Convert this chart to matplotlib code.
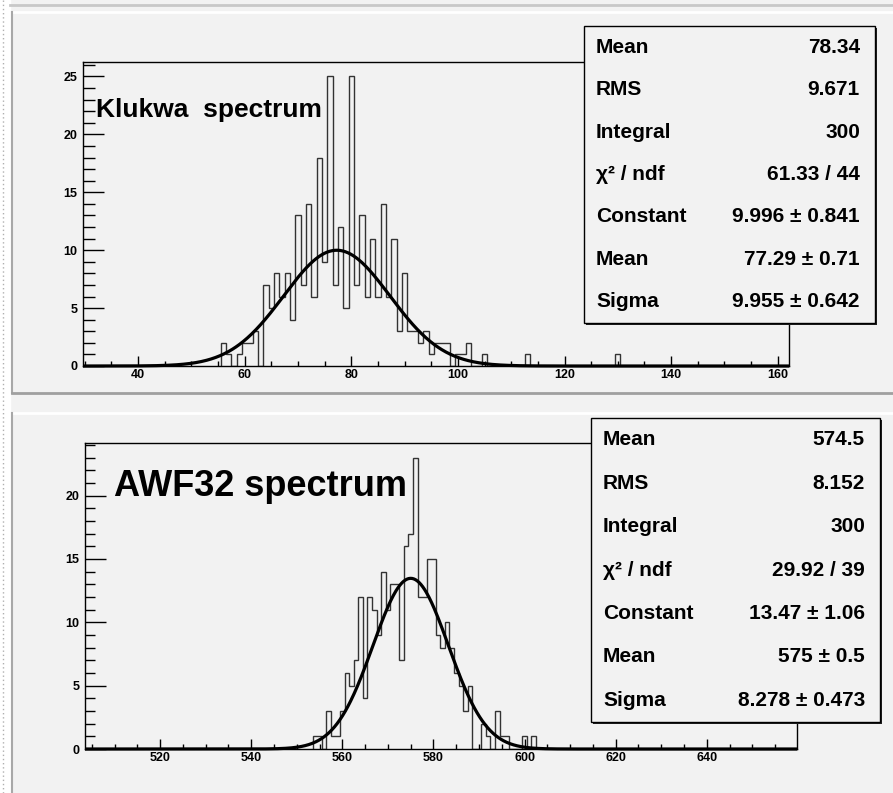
import numpy as np
import matplotlib
matplotlib.use("Agg")
import matplotlib.pyplot as plt
from matplotlib.patches import Rectangle

plt.rcParams['font.family'] = ['Liberation Sans', 'DejaVu Sans']

W, H = 893, 793

# Klukwa spectrum: bin centre -> counts (1-unit bins)
klukwa_bins = [56, 57, 58, 59, 60, 61, 62, 63, 64, 65, 66, 67, 68, 69,
               70, 71, 72, 73, 74, 75, 76, 77, 78, 79, 80, 81, 82, 83,
               84, 85, 86, 87, 88, 89, 90, 91, 92, 93, 94, 95, 96, 97,
               98, 99, 100, 101, 102, 105, 113, 130]
klukwa_counts = [2, 1, 0, 1, 2, 2, 3, 0, 7, 5, 8, 6, 8, 4,
                 13, 7, 14, 6, 18, 9, 25, 7, 12, 5, 25, 7, 13, 6,
                 11, 6, 14, 6, 11, 3, 8, 3, 3, 2, 3, 1, 2, 2,
                 2, 0, 1, 1, 2, 1, 1, 1]

# AWF32 spectrum
awf_bins = [554, 555, 556, 557, 558, 559, 560, 561, 562, 563, 564, 565,
            566, 567, 568, 569, 570, 571, 572, 573, 574, 575, 576, 577,
            578, 579, 580, 581, 582, 583, 584, 585, 586, 587, 588, 589,
            590, 591, 592, 593, 594, 595, 596, 600, 602]
awf_counts = [1, 1, 0, 3, 1, 1, 3, 6, 5, 7, 12, 4,
              12, 11, 9, 14, 11, 13, 13, 7, 16, 17, 23, 12,
              12, 15, 15, 9, 8, 10, 8, 6, 5, 3, 5, 0,
              0, 2, 1, 0, 3, 1, 1, 1, 1]

stat_names = ["Mean", "RMS", "Integral", "\u03c7\u00b2 / ndf", "Constant", "Mean", "Sigma"]
klukwa_stats = ["78.34", "9.671", "300", "61.33 / 44", "9.996 \u00b1 0.841",
                "77.29 \u00b1 0.71", "9.955 \u00b1 0.642"]
awf_stats = ["574.5", "8.152", "300", "29.92 / 39", "13.47 \u00b1 1.06",
             "575 \u00b1 0.5", "8.278 \u00b1 0.473"]
klukwa_fit = (9.996, 77.29, 9.955)
awf_fit = (13.47, 575.0, 8.278)

bg = '#f2f2f2'
fig = plt.figure(figsize=(W / 100, H / 100), dpi=100, facecolor=bg)

# pixel-coordinate overlay for the pad frames
back = fig.add_axes([0, 0, 1, 1], zorder=0)
back.set_xlim(0, W)
back.set_ylim(H, 0)
back.axis('off')
back.add_patch(Rectangle((0, 0), 10, H, color='white'))
back.plot([3, 3], [0, H], color='#b0b0b0', lw=1, ls=(0, (1, 2)))
back.plot([10, W], [5, 5], color='#c8c8c8', lw=2)
back.plot([10, W], [12, 12], color='white', lw=2)
back.plot([12, 12], [12, 393], color='#a8a8a8', lw=1.5)
back.plot([12, W], [393, 393], color='#a0a0a0', lw=2)
back.plot([12, W], [413, 413], color='white', lw=2)
back.plot([12, 12], [413, H], color='#a8a8a8', lw=1.5)


def panel(rect_px, xlim, ymax, bins, counts, fit, title, tsize, tpos,
          box_px, stats, yminor_len):
    x0, y0, x1, y1 = rect_px
    ax = fig.add_axes([x0 / W, 1 - y1 / H, (x1 - x0) / W, (y1 - y0) / H], zorder=2)
    ax.set_facecolor(bg)
    full = np.arange(min(bins), max(bins) + 1)
    vals = np.zeros(len(full))
    vals[np.searchsorted(full, bins)] = counts
    edges = np.append(full - 0.5, full[-1] + 0.5)
    ax.stairs(vals, edges, color='#333333', lw=1.0, baseline=0)
    # fitted gaussian over the whole range
    c, mu, s = fit
    xs = np.linspace(xlim[0], xlim[1], 800)
    ax.plot(xs, c * np.exp(-0.5 * ((xs - mu) / s) ** 2), color='black', lw=2.3,
            solid_capstyle='butt', clip_on=False)
    ax.set_xlim(*xlim)
    ax.set_ylim(0, ymax)
    ax.xaxis.set_major_locator(plt.MultipleLocator(20))
    ax.xaxis.set_minor_locator(plt.MultipleLocator(5))
    ax.yaxis.set_major_locator(plt.MultipleLocator(5))
    ax.yaxis.set_minor_locator(plt.MultipleLocator(1))
    ax.xaxis.set_tick_params(which='major', direction='in', length=7, width=1, pad=2,
                             labelsize=9)
    ax.xaxis.set_tick_params(which='minor', direction='in', length=3.5, width=1)
    ax.yaxis.set_tick_params(which='major', direction='in', length=15, width=1, pad=4,
                             labelsize=9)
    ax.yaxis.set_tick_params(which='minor', direction='in', length=yminor_len, width=1)
    for lab in ax.get_xticklabels() + ax.get_yticklabels():
        lab.set_fontweight('bold')
    for sp in ax.spines.values():
        sp.set_linewidth(1)
    fig.text(tpos[0] / W, 1 - tpos[1] / H, title, fontsize=tsize, fontweight='bold',
             ha='left', va='center', zorder=5)

    # stats box with shadow
    bx0, by0, bx1, by1 = box_px
    fg = fig.add_axes([0, 0, 1, 1], zorder=6)
    fg.set_xlim(0, W)
    fg.set_ylim(H, 0)
    fg.axis('off')
    fg.patch.set_alpha(0)
    fg.add_patch(Rectangle((bx0 + 2, by0 + 2), bx1 - bx0, by1 - by0, facecolor='#202020',
                           edgecolor='none'))
    fg.add_patch(Rectangle((bx0, by0), bx1 - bx0, by1 - by0, facecolor=bg,
                           edgecolor='black', lw=1))
    step = (by1 - by0) / len(stats)
    for i, (n, v) in enumerate(zip(stat_names, stats)):
        yy = by0 + step * (i + 0.5)
        fg.text(bx0 + 12, yy, n, fontsize=15, fontweight='bold', ha='left', va='center')
        fg.text(bx1 - 15, yy, v, fontsize=15, fontweight='bold', ha='right', va='center')
    return ax


panel((83, 62, 789, 366), (29.7, 162.1), 26.25, klukwa_bins, klukwa_counts, klukwa_fit,
      "Klukwa  spectrum", 19, (96, 110), (584, 26, 875, 323), klukwa_stats, 8.5)
panel((85, 443, 797, 749), (503.5, 659.8), 24.15, awf_bins, awf_counts, awf_fit,
      "AWF32 spectrum", 26, (114, 487), (591, 418, 880, 722), awf_stats, 7.5)

fig.savefig("out.png", dpi=100, facecolor=bg)
